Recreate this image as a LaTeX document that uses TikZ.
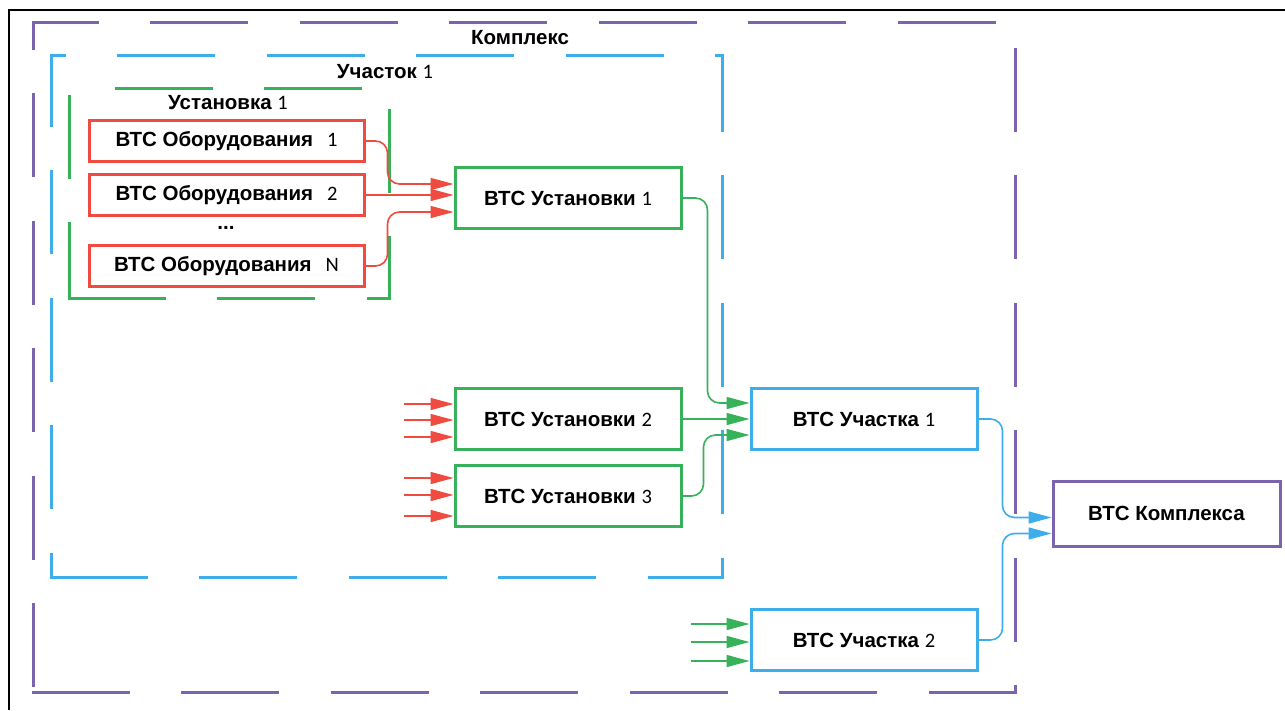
\documentclass[tikz,border=0pt]{standalone}
\usepackage{fontspec}
\setmainfont{Liberation Sans}
\newfontfamily\numfont{Carlito}
\usetikzlibrary{arrows.meta,calc}
\definecolor{vred}{RGB}{239,75,64}
\definecolor{vgreen}{RGB}{55,178,90}
\definecolor{vblue}{RGB}{61,174,233}
\definecolor{vpurple}{RGB}{123,99,174}
\newcommand{\nmb}[1]{{\numfont\mdseries #1}}
\tikzstyle{redbox}=[draw=vred,line width=3pt,minimum width=275pt,minimum height=41pt,inner sep=0pt]
\tikzstyle{greenbox}=[draw=vgreen,line width=3pt,minimum width=226pt,minimum height=61pt,inner sep=0pt]
\tikzstyle{bluebox}=[draw=vblue,line width=3pt,minimum width=226pt,minimum height=61pt,inner sep=0pt]
\tikzstyle{purplebox}=[draw=vpurple,line width=3pt,minimum width=227pt,minimum height=65pt,inner sep=0pt]
\tikzstyle{edge}=[draw,line width=1.6pt,rounded corners=12pt,-{Triangle[length=23pt,width=12pt]}]
\tikzstyle{frameline}=[line width=3pt,line cap=rect]
\tikzstyle{hdash}=[dash pattern=on 95pt off 54.5pt]
\tikzstyle{vdash}=[dash pattern=on 81pt off 46.5pt]

\begin{document}
\begin{tikzpicture}[x=1pt,y=-1pt,font=\bfseries\fontsize{20.5}{24}\selectfont]
    \useasboundingbox (0,0) rectangle (1285,710);
    \draw[black,line width=1.4pt] (9,710) -- (9,10) -- (1285,10);

    % Комплекс
    \draw[vpurple,frameline,hdash,dash phase=31pt] (33,22) -- (1015,22);
    \draw[vpurple,frameline,hdash] (33,692) -- (1015,692);
    \draw[vpurple,frameline,vdash,dash phase=55pt] (33,22) -- (33,692);
    \draw[vpurple,frameline,vdash,dash phase=100.5pt] (1015,22) -- (1015,692);
    % Участок 1
    \draw[vblue,frameline,hdash,dash phase=82pt] (51,55) -- (722,55);
    \draw[vblue,frameline,hdash] (51,577) -- (722,577);
    \draw[vblue,frameline,vdash,dash phase=11pt] (51,55) -- (51,577);
    \draw[vblue,frameline,vdash,dash phase=6pt] (722,55) -- (722,577);
    % Установка 1
    \draw[vgreen,frameline,hdash,dash phase=102.5pt] (69,88) -- (389,88);
    \draw[vgreen,frameline,hdash] (69,298) -- (389,298);
    \draw[vgreen,frameline,vdash,dash phase=119.5pt] (69,88) -- (69,298);
    \draw[vgreen,frameline,vdash,dash phase=105.5pt] (389,88) -- (389,298);

    \node (kxtitle) at (520,38) {Комплекс};
    \node (chtitle) at (385,72) {Участок \nmb{1}};
    \node (ustitle) at (228,103) {Установка \nmb{1}};
    \node (dots) at (226,228) {...};

    \foreach \pos/\name/\num in {{(226.5,141)/o1/1},{(226.5,195)/o2/2},{(226.5,266)/oN/N}}
        \node[redbox] (\name) at \pos {ВТС Оборудования\hspace{14pt}\nmb{\num}};
    \foreach \pos/\name/\num in {{(568,198)/u1/1},{(568,419)/u2/2},{(568,496)/u3/3}}
        \node[greenbox] (\name) at \pos {ВТС Установки \nmb{\num}};
    \foreach \pos/\name/\num in {{(864,419)/ch1/1},{(864,640)/ch2/2}}
        \node[bluebox] (\name) at \pos {ВТС Участка \nmb{\num}};
    \node[purplebox] (kx) at (1166.5,513.5) {ВТС Комплекса};

    % оборудование -> установка 1
    \draw[edge,vred] (o1.east) -- ++(22,0) |- ([yshift=14pt]u1.west);
    \draw[edge,vred] (o2.east) -- (o2.east -| u1.west);
    \draw[edge,vred] (oN.east) -- ++(22,0) |- ([yshift=-14pt]u1.west);
    \foreach \s in {15,-1,-18}
        \draw[edge,vred] ([xshift=-50pt,yshift=\s pt]u2.west) -- ([yshift=\s pt]u2.west);
    \foreach \s in {18,1,-20}
        \draw[edge,vred] ([xshift=-50pt,yshift=\s pt]u3.west) -- ([yshift=\s pt]u3.west);

    % установки -> участок 1
    \draw[edge,vgreen] (u1.east) -- ++(25,0) |- ([yshift=16pt]ch1.west);
    \draw[edge,vgreen] (u2.east) -- (ch1.west);
    \draw[edge,vgreen] (u3.east) -- ++(21,0) |- ([yshift=-16pt]ch1.west);
    \foreach \s in {16,-2,-21}
        \draw[edge,vgreen] ([xshift=-59pt,yshift=\s pt]ch2.west) -- ([yshift=\s pt]ch2.west);

    % участки -> комплекс
    \draw[edge,vblue] (ch1.east) -- ++(24,0) |- ([yshift=-4pt]kx.west);
    \draw[edge,vblue] (ch2.east) -- ++(24,0) |- ([yshift=-20pt]kx.west);
\end{tikzpicture}
\end{document}
